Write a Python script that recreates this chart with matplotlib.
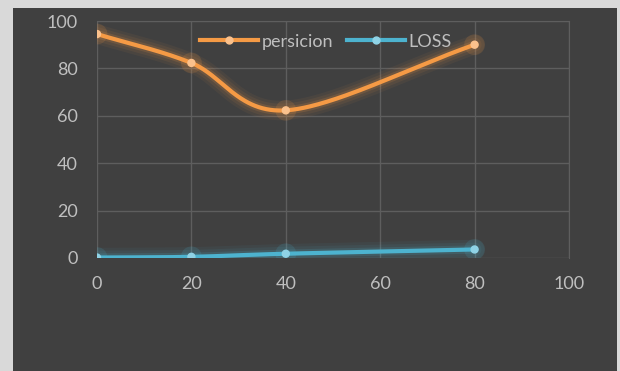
import numpy as np
import matplotlib.pyplot as plt
import matplotlib.patheffects as pe
from matplotlib.patches import Rectangle

# data
x_vals = [0, 20, 40, 80]
persicion = [94.5, 82.3, 62.3, 90.0]
loss = [0.2, 0.5, 1.8, 3.6]
x_ticks = [0, 20, 40, 60, 80, 100]
y_ticks = [0, 20, 40, 60, 80, 100]


def smooth_curve(xs, ys, n=60):
    # catmull-rom style smoothing, similar to spreadsheet "smoothed line"
    xs = np.asarray(xs, float)
    ys = np.asarray(ys, float)
    px = np.concatenate([[2 * xs[0] - xs[1]], xs, [2 * xs[-1] - xs[-2]]])
    py = np.concatenate([[2 * ys[0] - ys[1]], ys, [2 * ys[-1] - ys[-2]]])
    out_x, out_y = [], []
    for i in range(1, len(px) - 2):
        t = np.linspace(0, 1, n)
        b0x, b3x = px[i], px[i + 1]
        b0y, b3y = py[i], py[i + 1]
        b1x = b0x + (px[i + 1] - px[i - 1]) / 6
        b1y = b0y + (py[i + 1] - py[i - 1]) / 6
        b2x = b3x - (px[i + 2] - px[i]) / 6
        b2y = b3y - (py[i + 2] - py[i]) / 6
        cx = (1 - t) ** 3 * b0x + 3 * (1 - t) ** 2 * t * b1x + 3 * (1 - t) * t ** 2 * b2x + t ** 3 * b3x
        cy = (1 - t) ** 3 * b0y + 3 * (1 - t) ** 2 * t * b1y + 3 * (1 - t) * t ** 2 * b2y + t ** 3 * b3y
        out_x.extend(cx)
        out_y.extend(cy)
    return np.array(out_x), np.array(out_y)


def glow(color):
    return [pe.Stroke(linewidth=14, foreground=color, alpha=0.06),
            pe.Stroke(linewidth=10, foreground=color, alpha=0.08),
            pe.Stroke(linewidth=6, foreground=color, alpha=0.15),
            pe.Normal()]


plt.rcParams['font.family'] = ['Lato', 'DejaVu Sans']

bg = '#404040'
fig = plt.figure(figsize=(6.2, 3.71), dpi=100, facecolor='#d9d9d9')
fig.patches.append(Rectangle((13 / 620, 0), 604 / 620, 363 / 371, transform=fig.transFigure,
                             facecolor=bg, edgecolor='none', zorder=-5))
ax = fig.add_axes([97 / 620, 1 - 258 / 371, 472 / 620, 237 / 371])
ax.set_zorder(2)
ax.set_facecolor(bg)

orange = '#f59a45'
blue = '#4db3cf'

sx, sy = smooth_curve(x_vals, persicion)
ax.plot(sx, sy, color=orange, lw=3, solid_capstyle='round', path_effects=glow(orange), zorder=3)
ax.plot(x_vals, persicion, 'o', ms=5, color='#fbc18c', mec='#fbc18c', zorder=4,
        path_effects=[pe.Stroke(linewidth=10, foreground=orange, alpha=0.15), pe.Normal()])

lx, ly = smooth_curve(x_vals, loss)
ax.plot(lx, ly, color=blue, lw=3, solid_capstyle='round', path_effects=glow(blue), zorder=3)
ax.plot(x_vals, loss, 'o', ms=5, color='#8fd3e6', mec='#8fd3e6', zorder=4,
        path_effects=[pe.Stroke(linewidth=10, foreground=blue, alpha=0.15), pe.Normal()])

# legend proxies
ax.plot([], [], color=orange, lw=3, marker='o', ms=5, mfc='#fbc18c', mec='#fbc18c', label='persicion')
ax.plot([], [], color=blue, lw=3, marker='o', ms=5, mfc='#8fd3e6', mec='#8fd3e6', label='LOSS')
handles, labels = ax.get_legend_handles_labels()
leg = ax.legend(handles[-2:], labels[-2:], loc='upper center', ncol=2, frameon=False,
                bbox_to_anchor=(0.485, 1.015), fontsize=13, labelcolor='#bfbfbf',
                handlelength=3.2, columnspacing=0.8, handletextpad=0.2)

ax.set_xlim(0, 100)
ax.set_ylim(0, 100)
ax.set_xticks(x_ticks)
ax.set_yticks(y_ticks)
ax.grid(True, color='#5e5e5e', lw=1)
ax.set_axisbelow(True)
for s in ax.spines.values():
    s.set_visible(False)
ax.spines['right'].set_visible(True)
ax.spines['top'].set_visible(True)
ax.spines['right'].set_color('#5e5e5e')
ax.spines['top'].set_color('#5e5e5e')
ax.tick_params(length=0, labelsize=13, colors='#bfbfbf')
ax.tick_params(axis='y', pad=14)
ax.tick_params(axis='x', pad=13)
for lbl in ax.get_xticklabels() + ax.get_yticklabels():
    lbl.set_color('#bfbfbf')

fig.savefig('out.png', dpi=100, facecolor=fig.get_facecolor())
